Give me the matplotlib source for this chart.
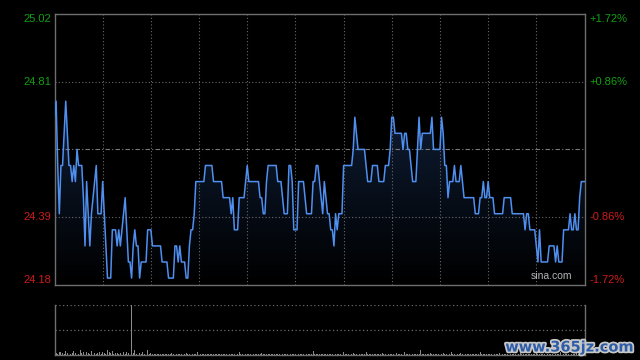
import matplotlib
matplotlib.use("Agg")
import matplotlib.pyplot as plt
import numpy as np
from matplotlib.colors import LinearSegmentedColormap
import matplotlib.patheffects as pe

plt.rcParams['font.family'] = ['Liberation Sans', 'DejaVu Sans']

prev_close = 24.60
left_ticks = [25.02, 24.81, 24.39, 24.18]
right_labels = ["+1.72%", "+0.86%", "-0.86%", "-1.72%"]

prices = [
    24.70, 24.75, 24.55, 24.40, 24.55, 24.55, 24.65, 24.75, 24.65, 24.55,
    24.55, 24.50, 24.55, 24.50, 24.60, 24.55, 24.55, 24.55, 24.45, 24.30,
    24.50, 24.40, 24.30, 24.40, 24.45, 24.50, 24.55, 24.40, 24.40, 24.40,
    24.50, 24.40, 24.30, 24.20, 24.20, 24.20, 24.35, 24.35, 24.35, 24.30,
    24.35, 24.30, 24.35, 24.40, 24.45, 24.35, 24.25, 24.25, 24.20, 24.30,
    24.35, 24.30, 24.30, 24.20, 24.25, 24.25, 24.25, 24.25, 24.35, 24.35,
    24.35, 24.30, 24.30, 24.30, 24.30, 24.30, 24.30, 24.25, 24.25, 24.25,
    24.25, 24.20, 24.20, 24.20, 24.20, 24.30, 24.30, 24.25, 24.30, 24.25,
    24.25, 24.25, 24.20, 24.20, 24.30, 24.35, 24.35, 24.40, 24.50, 24.50,
    24.50, 24.50, 24.50, 24.50, 24.55, 24.55, 24.55, 24.55, 24.55, 24.50,
    24.50, 24.50, 24.50, 24.50, 24.50, 24.45, 24.45, 24.45, 24.45, 24.45,
    24.40, 24.45, 24.35, 24.35, 24.35, 24.45, 24.45, 24.45, 24.45, 24.50,
    24.55, 24.50, 24.50, 24.50, 24.50, 24.50, 24.50, 24.50, 24.45, 24.45,
    24.40, 24.40, 24.50, 24.55, 24.55, 24.55, 24.55, 24.55, 24.55, 24.50,
    24.50, 24.50, 24.45, 24.40, 24.40, 24.40, 24.55, 24.55, 24.50, 24.35,
    24.35, 24.35, 24.50, 24.50, 24.50, 24.50, 24.45, 24.40, 24.40, 24.40,
    24.40, 24.50, 24.50, 24.55, 24.55, 24.50, 24.45, 24.40, 24.50, 24.45,
    24.40, 24.40, 24.35, 24.35, 24.30, 24.40, 24.35, 24.40, 24.40, 24.40,
    24.55, 24.55, 24.55, 24.55, 24.55, 24.55, 24.60, 24.70, 24.65, 24.60,
    24.60, 24.60, 24.60, 24.60, 24.55, 24.50, 24.50, 24.50, 24.55, 24.55,
    24.55, 24.55, 24.50, 24.50, 24.50, 24.50, 24.55, 24.55, 24.55, 24.60,
    24.70, 24.70, 24.65, 24.65, 24.65, 24.65, 24.65, 24.60, 24.65, 24.65,
    24.60, 24.60, 24.55, 24.50, 24.50, 24.50, 24.60, 24.70, 24.60, 24.65,
    24.65, 24.65, 24.65, 24.65, 24.65, 24.70, 24.60, 24.60, 24.60, 24.60,
    24.60, 24.70, 24.65, 24.55, 24.55, 24.45, 24.50, 24.50, 24.50, 24.55,
    24.50, 24.50, 24.50, 24.55, 24.50, 24.45, 24.45, 24.45, 24.45, 24.45,
    24.45, 24.45, 24.40, 24.40, 24.40, 24.45, 24.45, 24.50, 24.45, 24.45,
    24.50, 24.45, 24.45, 24.45, 24.40, 24.40, 24.40, 24.40, 24.40, 24.40,
    24.45, 24.45, 24.45, 24.45, 24.45, 24.40, 24.40, 24.40, 24.40, 24.40,
    24.40, 24.40, 24.40, 24.35, 24.40, 24.40, 24.35, 24.35, 24.35, 24.35,
    24.30, 24.25, 24.35, 24.25, 24.25, 24.25, 24.25, 24.25, 24.30, 24.30,
    24.30, 24.30, 24.25, 24.30, 24.25, 24.25, 24.25, 24.35, 24.35, 24.35,
    24.35, 24.40, 24.35, 24.35, 24.40, 24.35, 24.35, 24.45, 24.50, 24.50,
    24.50,
]

volumes = [
    1.5, 1.5, 1, 3, 3, 1.5, 1, 4, 2, 1.5,
    1, 1.5, 4, 1.5, 4, 1, 5, 1.5, 3, 1.5,
    3, 1.5, 1, 4, 1.5, 2, 1, 1.5, 3, 1,
    3, 1.5, 1, 5, 3, 1.5, 4, 1, 1.5, 2,
    1, 2, 1.5, 3, 1, 3, 1.5, 1, 50, 1.5,
    5, 1, 1.5, 2, 1, 3, 1, 1.5, 5, 1,
    1.5, 1, 1, 1, 1, 1, 1, 1, 1, 1,
    1, 1, 1, 2, 1, 1, 1, 1, 1, 1,
    1, 1, 2, 1, 1, 2, 1, 1, 1, 3,
    1, 1, 1, 1, 1, 1, 1, 1, 1, 1,
    1, 1, 1, 1, 1, 1, 1, 1, 1, 1,
    1, 1, 1, 1, 1, 3, 1, 1, 1, 1,
    1, 1, 1, 1, 1, 1, 1, 1, 1, 2,
    1, 1, 1, 1, 1, 1, 1, 1, 1, 1,
    1, 1, 1, 1, 1, 1, 1, 1, 1, 1,
    1, 3, 1, 1, 1, 1, 1, 1, 1, 1,
    1, 4, 1, 1, 1, 1, 1, 1, 1, 1,
    1, 1, 1, 1, 1, 1, 1, 1, 1, 1,
    3, 1, 1, 1, 1, 1, 2, 1, 1, 1,
    1, 1, 1, 1, 3, 1, 1, 1, 1, 1,
    1, 1, 1, 1, 2, 1, 1, 1, 1, 1,
    1, 1, 1, 2, 1, 1, 1, 1, 3, 1,
    1, 1, 2, 1, 1, 1, 1, 1, 5, 1,
    1, 1, 1, 1, 2, 1, 1, 1, 1, 1,
    1, 1, 2, 1, 1, 1, 1, 3, 1, 1,
    1, 1, 1, 2, 1, 1, 1, 1, 1, 1,
    1, 1, 1, 1, 1, 3, 1, 1, 1, 1,
    1, 1, 1, 1, 1, 1, 1, 2, 1, 1,
    1, 1, 1, 1, 1, 1, 1, 1, 1, 1,
    2, 1, 1, 1, 1, 1, 1, 1, 1, 1,
    3, 1, 1, 1, 1, 1, 1, 1, 1, 1,
    1, 2, 1, 1, 1, 3, 1, 1, 1, 1,
    1, 3, 1, 1, 1, 3, 1, 1, 1, 1,
    1,
]

W, H = 640, 360
fig = plt.figure(figsize=(6.4, 3.6), dpi=100, facecolor='black')

def rect(l, t, r, b):
    return [l / W, 1 - b / H, (r - l) / W, (b - t) / H]

BORDER = '#6e6e6e'
GRID = '#6a6a6a'
GREEN = '#11a011'
RED = '#d01a1a'

ax = fig.add_axes(rect(54.5, 14.3, 584.5, 284.5))
ax.set_facecolor('black')
n = len(prices)
x = np.arange(n)
ax.set_xlim(0, n - 1)
ax.set_ylim(left_ticks[-1], left_ticks[0])

# gradient fill under line
poly = ax.fill_between(x, prices, left_ticks[-1], color='none', lw=0)
cmap = LinearSegmentedColormap.from_list('g', ['#000000', '#0f1e36'])
grad = np.linspace(0, 1, 256).reshape(-1, 1)
im = ax.imshow(grad, cmap=cmap, aspect='auto', origin='lower',
               extent=[0, n - 1, left_ticks[-1], max(prices)], zorder=1)
path = poly.get_paths()[0]
im.set_clip_path(path, transform=ax.transData)

# grid
for xv in range(30, n - 1, 30):
    ax.axvline(xv, color=GRID, lw=0.8, ls=(0, (1, 2)), zorder=2)
for yv in (left_ticks[1], left_ticks[2]):
    ax.axhline(yv, color=GRID, lw=0.8, ls=(0, (1, 2)), zorder=2)
ax.axhline(prev_close, color='#7a7a7a', lw=0.8, ls=(0, (4, 2, 1, 2)), zorder=2)

ax.plot(x, prices, color='#4f8ff0', lw=1.1, zorder=3)

for s in ax.spines.values():
    s.set_color(BORDER)
    s.set_linewidth(1.0)
ax.set_xticks([])
ax.set_yticks([])

# axis labels
ymin, ymax = left_ticks[-1], left_ticks[0]
vas = ['top', 'center', 'center', 'bottom']
cols = [GREEN, GREEN, RED, RED]
for v, lab, va, c in zip(left_ticks, right_labels, vas, cols):
    ax.text(-0.006, v, f"{v:.2f}", transform=ax.get_yaxis_transform(),
            ha='right', va=va, color=c, fontsize=8)
    ax.text(1.01, v, lab, transform=ax.get_yaxis_transform(),
            ha='left', va=va, color=c, fontsize=8)

ax.text(0.977, 0.012, "sina.com", transform=ax.transAxes, ha='right',
        va='bottom', color='#b4b4b4', fontsize=7.5, zorder=4)

# volume panel
vax = fig.add_axes(rect(54.5, 304.5, 584.5, 354.5))
vax.set_facecolor('black')
vax.set_xlim(0, n - 1)
vmax = max(volumes)
vax.set_ylim(0, vmax)
vax.bar(x, volumes, width=0.55, color='#8a8a8a', lw=0, zorder=3)
vax.axhline(vmax, color=GRID, lw=0.9, ls=(0, (1, 2)), zorder=2)
vax.axhline(vmax / 2, color=GRID, lw=0.9, ls=(0, (1, 2)), zorder=2)
vax.spines['top'].set_visible(False)
for k in ('left', 'right', 'bottom'):
    vax.spines[k].set_color(BORDER)
    vax.spines[k].set_linewidth(1.0)
vax.set_xticks([])
vax.set_yticks([])

fig.text(634 / W, 1 - 347 / H, "www.365jz.com", ha='right', va='center',
         fontsize=10.5, fontweight='bold', color='#2d5ca8',
         family=['DejaVu Sans'],
         path_effects=[pe.withStroke(linewidth=2.5, foreground='#c8c8c8')])

fig.savefig('out.png', dpi=100, facecolor='black')
